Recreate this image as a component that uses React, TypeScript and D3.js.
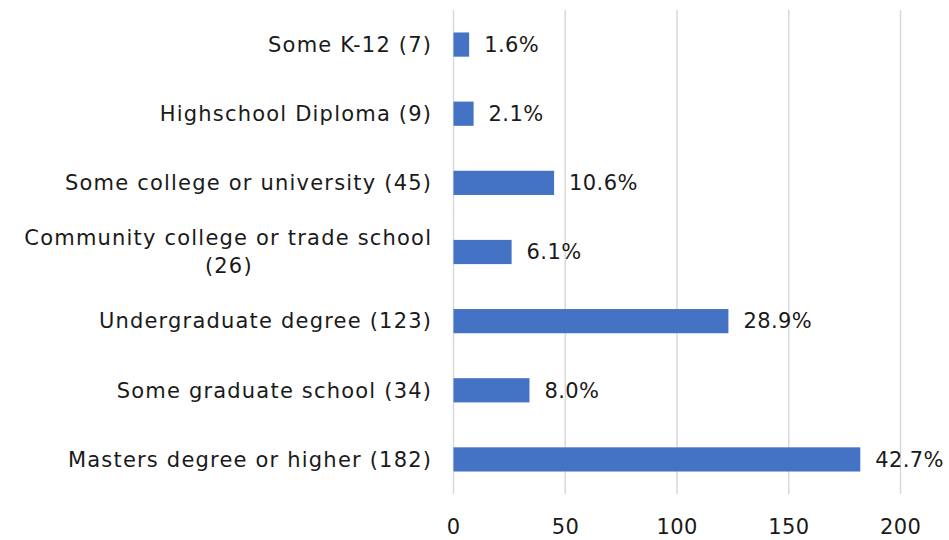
import React, { useEffect, useRef } from "react";
import * as d3 from "d3";

const categories = [
  "Some K-12 (7)",
  "Highschool Diploma (9)",
  "Some college or university (45)",
  "Community college or trade school|(26)",
  "Undergraduate degree (123)",
  "Some graduate school (34)",
  "Masters degree or higher (182)",
];
const counts = [7, 9, 45, 26, 123, 34, 182];
const percentLabels = ["1.6%", "2.1%", "10.6%", "6.1%", "28.9%", "8.0%", "42.7%"];
const xTicks = [0, 50, 100, 150, 200];

const W = 949;
const H = 540;
const FONT = "'DejaVu Sans', sans-serif";
const FS = 21;
const LS_CAT = 1.2;
const LS_NUM = 0.4;

export default function App() {
  const ref = useRef<SVGSVGElement>(null);
  useEffect(() => {
    const svg = d3.select(ref.current);
    svg.selectAll("*").remove();
    const x = d3.scaleLinear().domain([0, 200]).range([453.5, 900.5]);
    const y = d3.scaleBand().domain(categories).range([10, 494]).paddingInner(0.65).paddingOuter(0.325);

    const g = svg.append("g");
    g.selectAll("line.grid")
      .data(xTicks)
      .join("line")
      .attr("x1", (d) => x(d))
      .attr("x2", (d) => x(d))
      .attr("y1", 10)
      .attr("y2", 494)
      .attr("stroke", "#d9d9d9")
      .attr("stroke-width", 1.5);

    g.selectAll("text.tick")
      .data(xTicks)
      .join("text")
      .attr("x", (d) => x(d) + LS_NUM / 2)
      .attr("y", 527)
      .attr("dy", "0.35em")
      .attr("text-anchor", "middle")
      .attr("font-family", FONT)
      .attr("font-size", FS)
      .attr("letter-spacing", LS_NUM)
      .attr("fill", "#1a1a1a")
      .text((d) => String(d));

    g.selectAll("rect.bar")
      .data(categories)
      .join("rect")
      .attr("x", x(0))
      .attr("y", (d) => y(d)!)
      .attr("width", (d, i) => x(counts[i]) - x(0))
      .attr("height", y.bandwidth())
      .attr("fill", "#4472C4");

    g.selectAll("text.val")
      .data(categories)
      .join("text")
      .attr("x", (d, i) => x(counts[i]) + 15)
      .attr("y", (d) => y(d)! + y.bandwidth() / 2)
      .attr("dy", "0.35em")
      .attr("font-family", FONT)
      .attr("font-size", FS)
      .attr("letter-spacing", LS_NUM)
      .attr("fill", "#1a1a1a")
      .text((d, i) => percentLabels[i]);

    categories.forEach((c) => {
      const lines = c.split("|");
      const cy = y(c)! + y.bandwidth() / 2;
      const mk = (txt: string, xx: number, yy: number, anchor: string) =>
        g.append("text")
          .attr("x", xx)
          .attr("y", yy)
          .attr("dy", "0.35em")
          .attr("text-anchor", anchor)
          .attr("font-family", FONT)
          .attr("font-size", FS)
          .attr("letter-spacing", LS_CAT)
          .attr("fill", "#1a1a1a")
          .text(txt);
      if (lines.length === 1) {
        mk(lines[0], 431 + LS_CAT, cy, "end");
      } else {
        const t1 = mk(lines[0], 431 + LS_CAT, cy - 14, "end");
        const w = (t1.node() as SVGTextElement).getComputedTextLength();
        mk(lines[1], 431 + LS_CAT - w / 2 + LS_CAT / 2, cy + 14, "middle");
      }
    });
  }, []);
  return (
    <svg ref={ref} width={W} height={H} style={{ position: "absolute", left: 0, top: 0, background: "#fff" }} />
  );
}
